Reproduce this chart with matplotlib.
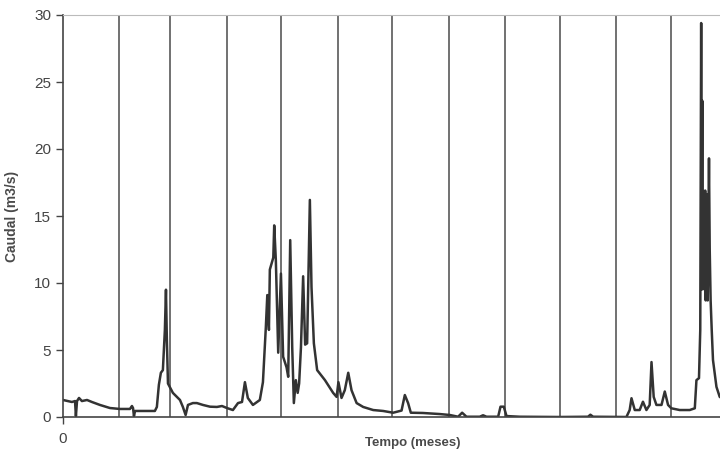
import numpy as np
import matplotlib
matplotlib.use('Agg')
import matplotlib.pyplot as plt

plt.rcParams['font.family'] = ['Liberation Sans', 'DejaVu Sans']

# Month boundaries (days since start of the year)
month_edges = [31, 59, 90, 120, 151, 181, 212, 243, 273, 304, 334]

# Daily flow: day, flow (m3/s)
dias = [0, 2.7, 4.9, 6.6, 7.1, 7.7, 8.8, 10.4, 13.2, 15.9, 20.3, 25.8, 31.3, 36.8,
        37.9, 38.5, 39.0, 39.6, 50.5, 51.6, 52.7, 53.8, 54.9, 56.0, 56.6, 57.1,
        57.7, 60.4, 64.3, 65.9, 67.4, 68.7, 71.4, 73.6, 76.9, 80.8, 84.6, 87.4,
        90.1, 93.4, 96.2, 98.4, 100.0, 101.6, 104.4, 108.2, 109.9, 111.5, 112.3,
        113.2, 113.7, 115.6, 116.1, 117.0, 118.3, 119.8, 121.0, 122.9, 123.8,
        124.9, 126.0, 126.9, 128.0, 129.0, 129.8, 130.8, 132.0, 133.1, 134.2,
        135.7, 136.6, 137.9, 139.7, 144.0, 148.5, 150.4, 151.4, 153.1, 154.9,
        156.8, 158.6, 161.4, 165.0, 170.5, 176.0, 181.5, 186.1, 187.9, 189.7,
        191.2, 197.8, 207.1, 212.6, 217.2, 219.4, 221.8, 229.1, 230.9, 232.8,
        239.2, 240.5, 242.3, 243.8, 251.1, 273.1, 288.6, 289.9, 291.4, 309.7,
        311.5, 312.5, 314.3, 317.0, 318.8, 320.7, 322.5, 323.5, 324.7, 326.2,
        329.0, 330.8, 332.6, 334.4, 339.0, 344.5, 347.3, 348.2, 349.6, 350.3,
        350.8, 351.1, 351.4, 351.6, 351.9, 352.2, 352.5, 352.7, 353.0, 353.3,
        353.6, 353.8, 354.1, 354.4, 355.1, 355.5, 356.0, 356.6, 357.3, 359.2,
        361.0, 365.0]
caudal = [1.27, 1.19, 1.12, 1.19, 0.07, 1.19, 1.42, 1.19, 1.27, 1.12, 0.90, 0.67,
          0.60, 0.60, 0.82, 0.67, 0.07, 0.45, 0.45, 0.75, 2.4, 3.3, 3.5, 6.5, 9.5,
          5.7, 2.5, 1.8, 1.27, 0.75, 0.15, 0.90, 1.04, 1.04, 0.90, 0.77, 0.75,
          0.82, 0.67, 0.52, 1.04, 1.12, 2.6, 1.42, 0.90, 1.27, 2.6, 6.7, 9.1, 6.5,
          11.0, 11.9, 14.3, 11.7, 4.8, 10.7, 4.5, 3.7, 3.0, 13.2, 5.2, 1.04, 2.75,
          1.8, 2.5, 5.2, 10.5, 5.4, 5.5, 16.2, 9.7, 5.5, 3.5, 2.75, 1.8, 1.5, 2.6,
          1.42, 2.0, 3.3, 2.0, 1.04, 0.75, 0.52, 0.45, 0.32, 0.48, 1.64, 1.04,
          0.32, 0.30, 0.22, 0.15, 0.02, 0.32, 0.02, 0.02, 0.13, 0.02, 0.02, 0.77,
          0.77, 0.07, 0.02, 0.0, 0.02, 0.17, 0.02, 0.0, 0.52, 1.4, 0.52, 0.52,
          1.14, 0.52, 0.9, 4.1, 1.5, 0.9, 0.9, 1.9, 0.9, 0.65, 0.52, 0.52, 0.65,
          2.75, 2.9, 6.5, 29.4, 9.5, 23.6, 10.2, 16.2, 11.0, 16.6, 9.5, 16.9, 8.7,
          16.2, 11.0, 16.6, 8.7, 19.3, 12.5, 8.7, 6.5, 4.25, 2.25, 1.5, 1.2]

fig = plt.figure(figsize=(7.2, 4.59), dpi=100)
# axes run past the right edge of the picture, as in the original
ax = fig.add_axes([63 / 720, 42 / 459, 664 / 720, 402 / 459])

for d in month_edges:
    ax.axvline(d, color='#666666', lw=1.3, zorder=1)

ax.plot(dias, caudal, color='#333333', lw=1.8, zorder=2)

ax.set_xlim(0, 365)
ax.set_ylim(0, 30)
ax.set_yticks(np.arange(0, 31, 5))
ax.set_xticks([0])

ax.spines['right'].set_visible(False)
ax.spines['top'].set_color('#bbbbbb')
ax.spines['left'].set_color('#444444')
ax.spines['bottom'].set_color('#444444')
ax.spines['left'].set_linewidth(1.2)
ax.spines['bottom'].set_linewidth(1.2)

ax.tick_params(axis='both', direction='out', length=5, width=1.0,
               color='#444444', labelcolor='#444444', labelsize=11)
ax.tick_params(axis='x', pad=6)

ax.set_ylabel('Caudal (m3/s)', fontsize=10, fontweight='bold', color='#4a4a4a')
ax.set_xlabel('Tempo (meses)', fontsize=9.5, fontweight='bold', color='#4a4a4a')
ax.yaxis.set_label_coords(-44 / 664, 0.5)
ax.xaxis.set_label_coords((413 - 63) / 664, -20 / 402)

fig.savefig('out.png', dpi=100)
